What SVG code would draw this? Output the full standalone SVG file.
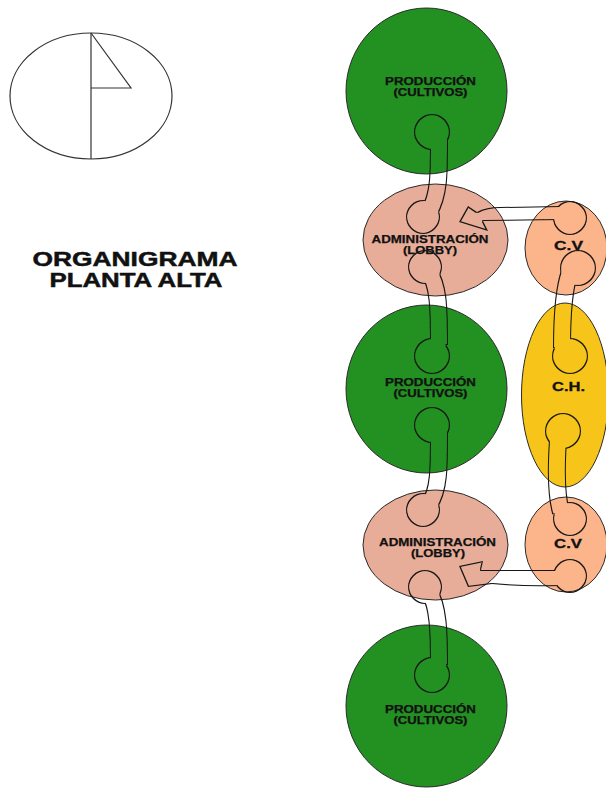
<svg xmlns="http://www.w3.org/2000/svg" width="606" height="789" viewBox="0 0 606 789">
<style>
text{font-family:"Liberation Sans",Arial,sans-serif;font-weight:bold;fill:#111;text-anchor:middle}
.lbl{font-size:10px;stroke:#111;stroke-width:0.25}
.big{font-size:13px;stroke:#111;stroke-width:0.3}
.ttl{font-size:21px;stroke:#111;stroke-width:0.5}
.node{stroke:#2a2a2a;stroke-width:1}
.prod{fill:#239022}
.adm{fill:#E8AD99}
.cv{fill:#FCB48A}
.ch{fill:#F7C51A}
.k{fill:#000;stroke:none}
.st{fill:none;stroke:#000;stroke-width:18}
</style>
<defs>
<filter id="ol" x="-30%" y="-30%" width="160%" height="160%">
<feMorphology in="SourceAlpha" operator="erode" radius="1.1" result="er"/>
<feComposite in="SourceAlpha" in2="er" operator="out" result="ring"/>
<feFlood flood-color="#151515"/>
<feComposite in2="ring" operator="in"/>
</filter>
</defs>
<rect width="606" height="789" fill="#fff"/>
<g id="north" fill="none" stroke="#333" stroke-width="1.2">
<ellipse cx="91" cy="96" rx="81" ry="63"/>
<line x1="91" y1="33" x2="91" y2="159"/>
<polyline points="91,33 131,88 91,88"/>
</g>
<g id="title">
<text class="ttl" x="135" y="266" textLength="205" lengthAdjust="spacingAndGlyphs">ORGANIGRAMA</text>
<text class="ttl" x="136" y="287" textLength="173" lengthAdjust="spacingAndGlyphs">PLANTA ALTA</text>
</g>
<g id="prod1"><ellipse class="node prod" cx="426.5" cy="91" rx="80.5" ry="83"/>
<text class="lbl" x="430.5" y="85" textLength="91" lengthAdjust="spacingAndGlyphs">PRODUCCIÓN</text>
<text class="lbl" x="430.5" y="96" textLength="74" lengthAdjust="spacingAndGlyphs">(CULTIVOS)</text></g>
<g id="adm1"><ellipse class="node adm" cx="435.5" cy="240" rx="72.5" ry="56"/>
<text class="lbl" x="430" y="243" textLength="117" lengthAdjust="spacingAndGlyphs">ADMINISTRACIÓN</text>
<text class="lbl" x="430" y="254" textLength="54" lengthAdjust="spacingAndGlyphs">(LOBBY)</text></g>
<g id="cv1"><ellipse class="node cv" cx="566" cy="248" rx="41" ry="47"/>
<text class="big" x="568.5" y="250" textLength="29" lengthAdjust="spacingAndGlyphs">C.V</text></g>
<g id="prod2"><ellipse class="node prod" cx="426.5" cy="389" rx="80.5" ry="84"/>
<text class="lbl" x="430.5" y="386" textLength="91" lengthAdjust="spacingAndGlyphs">PRODUCCIÓN</text>
<text class="lbl" x="430.5" y="397" textLength="74" lengthAdjust="spacingAndGlyphs">(CULTIVOS)</text></g>
<g id="ch"><ellipse class="node ch" cx="565" cy="395" rx="43.5" ry="92"/>
<text class="big" x="568.5" y="391" textLength="33" lengthAdjust="spacingAndGlyphs">C.H.</text></g>
<g id="adm2"><ellipse class="node adm" cx="435.5" cy="545" rx="72.5" ry="55"/>
<text class="lbl" x="437.5" y="546" textLength="117" lengthAdjust="spacingAndGlyphs">ADMINISTRACIÓN</text>
<text class="lbl" x="438" y="557" textLength="54" lengthAdjust="spacingAndGlyphs">(LOBBY)</text></g>
<g id="cv2"><ellipse class="node cv" cx="566" cy="544.5" rx="41" ry="47.5"/>
<text class="big" x="568" y="548" textLength="28" lengthAdjust="spacingAndGlyphs">C.V</text></g>
<g id="prod3"><ellipse class="node prod" cx="426.5" cy="706" rx="80.5" ry="81"/>
<text class="lbl" x="430.5" y="713" textLength="91" lengthAdjust="spacingAndGlyphs">PRODUCCIÓN</text>
<text class="lbl" x="430.5" y="724" textLength="74" lengthAdjust="spacingAndGlyphs">(CULTIVOS)</text></g>
<g id="connectors">
<g id="c1" filter="url(#ol)"><circle class="k" cx="432" cy="132" r="18"/><circle class="k" cx="423" cy="217" r="17"/><path class="st" d="M439,140 C439,175 439,195 429,212"/></g>
<g id="c2" filter="url(#ol)"><circle class="k" cx="425" cy="267" r="17"/><circle class="k" cx="432" cy="356" r="18"/><path class="st" d="M429,272 C438,285 439,305 439,345"/></g>
<g id="c3" filter="url(#ol)"><circle class="k" cx="432" cy="425" r="18"/><circle class="k" cx="423" cy="510" r="17"/><path class="st" d="M439,432 C439,470 439,490 429,505"/></g>
<g id="c4" filter="url(#ol)"><circle class="k" cx="425" cy="587" r="17"/><circle class="k" cx="432" cy="675" r="18"/><path class="st" d="M429,592 C438,605 439,630 439,665"/></g>
<g id="c5" filter="url(#ol)"><circle class="k" cx="578" cy="268" r="18"/><circle class="k" cx="570" cy="356" r="18"/><path class="st" d="M570,272 C563,290 562,320 562,348"/></g>
<g id="c6" filter="url(#ol)"><circle class="k" cx="563" cy="431" r="18"/><circle class="k" cx="570" cy="519" r="17"/><path class="st" d="M558,440 C556,470 556,495 561,512"/></g>
<g id="a1" filter="url(#ol)"><circle class="k" cx="570" cy="218" r="17"/><path class="k" d="M459,222 L468,206 L477,212 Q486,207 500,207 L560,206 L560,220 L483,221 L488,231 Z"/></g>
<g id="a2" filter="url(#ol)"><circle class="k" cx="570" cy="576" r="17"/><path class="k" d="M459,566 L483,561 L481,570 L560,570 L560,586 Q520,587 492,584 L468,587 Z"/></g>
</g>
</svg>
